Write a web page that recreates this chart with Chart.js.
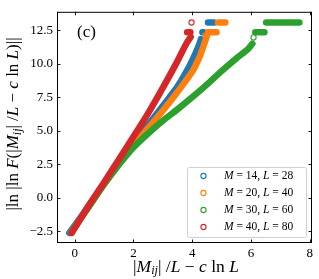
<!DOCTYPE html>
<html><head><meta charset="utf-8">
<script src="https://cdn.jsdelivr.net/npm/chart.js@4/dist/chart.umd.min.js"></script>
<style>html,body{margin:0;padding:0;background:#fff}#wrap{width:319px;height:279px}</style>
</head><body><div id="wrap"><canvas id="c" width="319" height="279"></canvas></div>
<script>
// ---- data ----
const xTickValues = [0, 2, 4, 6, 8];
const yTickValues = [-2.5, 0, 2.5, 5, 7.5, 10, 12.5];
const seriesM = [14, 20, 30, 40];
const seriesL = [28, 40, 60, 80];
const seriesColors = ['#1f77b4', '#ff7f0e', '#2ca02c', '#d62728'];

const curveM14 = [[-0.18,-2.62],[0.5,-0.55],[1.0,1.05],[1.5,2.6],[2.0,4.05],[2.5,5.45],[3.0,6.85],[3.5,8.3],[3.9,9.8],[4.1,10.7],[4.25,11.5],[4.3,11.85]];
const curveM20 = [[-0.12,-2.6],[0.5,-0.6],[1.0,1.0],[1.5,2.5],[2.0,3.9],[2.5,5.2],[3.0,6.5],[3.5,7.9],[4.0,9.4],[4.25,10.5],[4.4,11.4],[4.5,12.05]];
const curveM30 = [[-0.12,-2.6],[0.5,-0.6],[1.0,1.0],[1.5,2.45],[2.0,3.75],[2.5,4.8],[3.0,5.75],[3.5,6.6],[4.0,7.5],[4.5,8.45],[5.0,9.45],[5.5,10.4],[5.9,11.1],[6.05,11.5]];
const curveM40 = [[-0.1,-2.62],[0.5,-0.5],[1.0,1.15],[1.5,2.85],[2.0,4.55],[2.5,6.3],[3.0,8.2],[3.5,10.2],[3.8,11.5],[3.95,12.0]];

// saturated rows (upper plateau values)
const rowsM14 = [[[4.35,12.35],[4.4,12.35]], [[4.54,13.08],[4.74,13.08]]];
const rowsM20 = [[[4.54,12.35],[4.83,12.35]], [[4.88,13.08],[5.13,13.08]]];
const rowsM30 = [[[6.15,12.35],[6.46,12.35]], [[6.52,13.08],[7.65,13.08]]];
const rowsM40 = [[[3.83,12.35],[3.94,12.35]]];

// isolated open markers
const loneM20 = [[4.45,12.1]];
const loneM30 = [[6.09,11.97]];
const loneM40 = [[3.98,13.08]];

const curves = [curveM14, curveM20, curveM30, curveM40];
const rows = [rowsM14, rowsM20, rowsM30, rowsM40];
const lones = [[], loneM20, loneM30, loneM40];

const FONT = "'Liberation Serif', 'DejaVu Serif', serif";
const toXY = a => a.map(p => ({x: p[0], y: p[1]}));

const datasets = [];
for (let i = 0; i < 4; i++) {
  const col = seriesColors[i];
  const ord = 3 - i; // later series drawn on top
  const lineStyle = {showLine: true, borderColor: col, backgroundColor: col, borderWidth: 6.5, order: ord,
    borderCapStyle: 'round', borderJoinStyle: 'round', pointRadius: 0, pointHoverRadius: 0, tension: 0.25};
  datasets.push(Object.assign({label: 'M = ' + seriesM[i] + ', L = ' + seriesL[i], data: toXY(curves[i])}, lineStyle));
  rows[i].forEach(r => datasets.push(Object.assign({label: '', data: toXY(r)}, lineStyle, {tension: 0})));
  if (lones[i].length) datasets.push({label: '', data: toXY(lones[i]), showLine: false, pointRadius: 2.6, order: ord,
    pointBorderWidth: 1.1, pointBorderColor: col, pointBackgroundColor: 'rgba(0,0,0,0)'});
}

function drawMath(ctx, segs, x, y, size, align) {
  const parts = segs.map(s => {
    const style = s[1];
    const sz = style === 's' ? size * 0.7 : size;
    const f = (style === 'r' ? '' : 'italic ') + sz + 'px ' + FONT;
    ctx.font = f;
    return {t: s[0], f: f, w: ctx.measureText(s[0]).width, dy: style === 's' ? size * 0.22 : 0};
  });
  const total = parts.reduce((a, p) => a + p.w, 0);
  let cx = align === 'center' ? x - total / 2 : x;
  ctx.textAlign = 'left'; ctx.textBaseline = 'middle';
  parts.forEach(p => { ctx.font = p.f; ctx.fillText(p.t, cx, y + p.dy); cx += p.w; });
}

const decor = {
  id: 'decor',
  afterDraw(chart) {
    const ctx = chart.ctx, a = chart.chartArea, xs = chart.scales.x, ys = chart.scales.y;
    ctx.save();
    ctx.strokeStyle = '#000'; ctx.lineWidth = 1;
    ctx.strokeRect(a.left + 0.5, a.top + 0.5, a.right - a.left - 1, a.bottom - a.top - 1);
    ctx.lineWidth = 0.9;
    ctx.beginPath();
    xTickValues.forEach(v => { const px = Math.round(xs.getPixelForValue(v)) + 0.5;
      ctx.moveTo(px, a.bottom); ctx.lineTo(px, a.bottom - 3.5); ctx.moveTo(px, a.top); ctx.lineTo(px, a.top + 3.5); });
    yTickValues.forEach(v => { const py = Math.round(ys.getPixelForValue(v)) + 0.5;
      ctx.moveTo(a.left, py); ctx.lineTo(a.left + 3.5, py); ctx.moveTo(a.right, py); ctx.lineTo(a.right - 3.5, py); });
    ctx.stroke();

    ctx.fillStyle = '#000';
    ctx.font = '17px ' + FONT; ctx.textAlign = 'left'; ctx.textBaseline = 'middle';
    ctx.fillText('(c)', 77, 33);

    // legend
    const lx = 187, ly = 167, lw = 119, lh = 70;
    ctx.fillStyle = 'rgba(255,255,255,0.85)';
    ctx.strokeStyle = '#d0d0d0'; ctx.lineWidth = 1;
    ctx.beginPath(); ctx.roundRect(lx + 0.5, ly + 0.5, lw, lh, 2); ctx.fill(); ctx.stroke();
    for (let i = 0; i < 4; i++) {
      const yy = 176 + i * 17;
      ctx.strokeStyle = seriesColors[i]; ctx.lineWidth = 1.1;
      ctx.beginPath(); ctx.arc(203.5, yy, 2.6, 0, Math.PI * 2); ctx.stroke();
      ctx.fillStyle = '#000';
      drawMath(ctx, [['M', 'i'], [' = ' + seriesM[i] + ', ', 'r'], ['L', 'i'], [' = ' + seriesL[i], 'r']], 224, yy, 11.5, 'left');
    }

    // axis titles
    ctx.fillStyle = '#000';
    drawMath(ctx, [['|', 'r'], ['M', 'i'], ['ij', 's'], ['| /', 'r'], ['L', 'i'], [' \u2212 ', 'r'], ['c', 'i'], [' ln ', 'r'], ['L', 'i']], 186, 267, 17.5, 'center');
    ctx.translate(14, 124); ctx.rotate(-Math.PI / 2);
    drawMath(ctx, [['|ln |ln ', 'r'], ['F', 'i'], ['(|', 'r'], ['M', 'i'], ['ij', 's'], ['| /', 'r'], ['L', 'i'], [' \u2212 ', 'r'], ['c', 'i'], [' ln ', 'r'], ['L', 'i'], [')||', 'r']], 0, 0, 17, 'center');
    ctx.restore();
  }
};

new Chart(document.getElementById('c'), {
  type: 'scatter',
  data: {datasets: datasets},
  options: {
    responsive: false, animation: false, devicePixelRatio: 1,
    layout: {padding: {top: 5, right: 7, left: 0, bottom: 0}},
    plugins: {legend: {display: false}, tooltip: {enabled: false}},
    scales: {
      x: {type: 'linear', min: -0.6, max: 8.08,
        grid: {display: false, drawTicks: false}, border: {display: false},
        afterBuildTicks: s => { s.ticks = xTickValues.map(v => ({value: v})); },
        afterFit: s => { s.height = 36; },
        ticks: {padding: 3, color: '#000', font: {family: FONT, size: 13}, maxRotation: 0,
          callback: v => String(v).replace('-', '\u2212')}},
      y: {type: 'linear', min: -3.37, max: 13.88,
        grid: {display: false, drawTicks: false}, border: {display: false},
        afterBuildTicks: s => { s.ticks = yTickValues.map(v => ({value: v})); },
        afterFit: s => { s.width = 57; },
        ticks: {padding: 4, color: '#000', font: {family: FONT, size: 13},
          callback: v => v.toFixed(1).replace('-', '\u2212')}}
    }
  },
  plugins: [decor]
});
</script></body></html>
